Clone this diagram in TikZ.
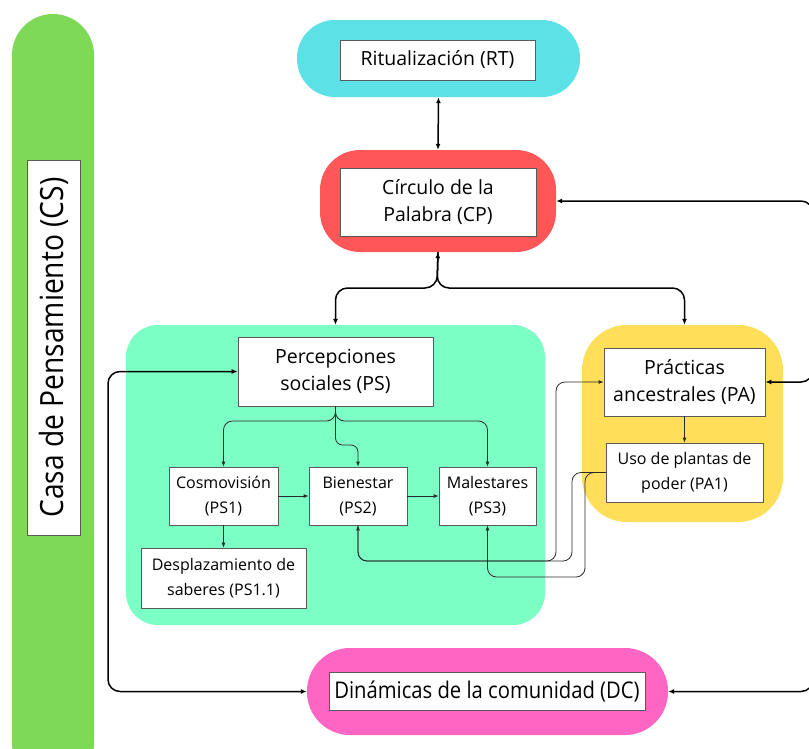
\documentclass[tikz,border=0pt]{standalone}
\usepackage{fontspec}
\setmainfont{Open Sans}
\newfontfamily\condfont[FakeStretch=0.88]{Open Sans}
\usetikzlibrary{arrows.meta,calc}
\definecolor{cyanbg}{HTML}{5CE1E6}
\definecolor{redbg}{HTML}{FF5757}
\definecolor{mintbg}{HTML}{7CFFC4}
\definecolor{yellowbg}{HTML}{FFDE59}
\definecolor{pinkbg}{HTML}{FF66C4}
\definecolor{greenbg}{HTML}{7ED957}
\definecolor{boxline}{HTML}{5A5A5A}
\definecolor{thinline}{HTML}{2A2A2A}
\begin{document}
\begin{tikzpicture}[x=1pt,y=-1pt,
  bg/.style={inner sep=0pt, draw=none},
  wbox/.style={draw=boxline, line width=0.8pt, fill=white, inner sep=0pt, align=center},
  bigtxt/.style={font=\fontsize{19.5}{27}\selectfont},
  smalltxt/.style={font=\fontsize{16}{25}\selectfont},
  mainline/.style={line width=1.5pt, black, rounded corners=12pt},
  thinconn/.style={line width=0.8pt, thinline, rounded corners=9pt},
  mtip/.style={-{Latex[length=6pt,width=5pt]}},
  mtipboth/.style={{Latex[length=6pt,width=5pt]}-{Latex[length=6pt,width=5pt]}},
  ttip/.style={-{Latex[length=5pt,width=4pt]}}
]
\useasboundingbox (0,0) rectangle (809,748);

% backgrounds
\node[bg, fill=greenbg, minimum width=82pt, minimum height=770pt, rounded corners=41pt] (CSbg) at (53,399) {};
\node[bg, fill=cyanbg, minimum width=283pt, minimum height=77pt, rounded corners=38pt] (RTbg) at (438.5,58.5) {};
\node[bg, fill=redbg, minimum width=236pt, minimum height=102pt, rounded corners=40pt] (CPbg) at (438,201) {};
\node[bg, fill=mintbg, minimum width=419pt, minimum height=300pt, rounded corners=32pt] (PSbg) at (335.5,475) {};
\node[bg, fill=yellowbg, minimum width=201pt, minimum height=197pt, rounded corners=45pt] (PAbg) at (682.5,423.5) {};
\node[bg, fill=pinkbg, minimum width=361pt, minimum height=87pt, rounded corners=43pt] (DCbg) at (487.5,691.5) {};

% boxes
\node[wbox, minimum width=375pt, minimum height=53pt, rotate=90, font=\condfont\fontsize{32}{36}\selectfont] (CS) at (53.5,347.5) {Casa de Pensamiento (CS)};
\node[wbox, bigtxt, minimum width=195pt, minimum height=40pt] (RT) at (437.5,60) {Ritualización (RT)};
\node[wbox, bigtxt, minimum width=196pt, minimum height=68pt] (CP) at (438,202) {Círculo de la\\Palabra (CP)};
\node[wbox, bigtxt, minimum width=195pt, minimum height=69pt] (PS) at (335.5,371.5) {Percepciones\\sociales (PS)};
\node[wbox, smalltxt, minimum width=109pt, minimum height=58pt] (PS1) at (223.5,496) {Cosmovisión\\(PS1)};
\node[wbox, smalltxt, minimum width=98pt, minimum height=58pt] (PS2) at (358,496) {Bienestar\\(PS2)};
\node[wbox, smalltxt, minimum width=97pt, minimum height=58pt] (PS3) at (487.5,496) {Malestares\\(PS3)};
\node[wbox, smalltxt, minimum width=165pt, minimum height=60pt] (PS11) at (223.5,578) {Desplazamiento de\\saberes (PS1.1)};
\node[wbox, bigtxt, minimum width=161pt, minimum height=68pt] (PA) at (684.5,382) {Prácticas\\ancestrales (PA)};
\node[wbox, smalltxt, minimum width=157pt, minimum height=59pt] (PA1) at (684.5,472.5) {Uso de plantas de\\poder (PA1)};
\node[wbox, minimum width=316pt, minimum height=38pt, font=\condfont\fontsize{23}{26}\selectfont] (DC) at (487,691) {Dinámicas de la comunidad (DC)};

% helper coordinates
\coordinate (fork) at (437,288);
\coordinate (Lx) at (108,0);
\coordinate (Rx) at (813,0);
\coordinate (psfork) at (0,421);
\coordinate (psmid) at (0,445);
\coordinate (yA) at (0,561);
\coordinate (yB) at (0,577);
\coordinate (xA) at (556,0);
\coordinate (xB) at (572,0);
\coordinate (xC) at (585,0);

% main connectors
\draw[mainline, mtipboth] (RTbg.south) -- (CPbg.north);
\draw[mainline, mtipboth] (CPbg.south) -- (fork) -- (fork -| PS.north) -- (PSbg.north -| PS.north);
\draw[mainline, mtip] (CPbg.south) -- (fork) -- (fork -| PA.north) -- (PAbg.north -| PA.north);
\draw[mainline, mtipboth] (PS.west) -- (PS.west -| Lx) -- (DCbg.west -| Lx) -- (DCbg.west);
\draw[mainline, mtipboth] (CPbg.east) -- (CPbg.east -| Rx) -- (DCbg.east -| Rx) -- (DCbg.east);
\draw[mainline, mtip] (CPbg.east -| Rx) -- (PA.east -| Rx) -- (PA.east);

% inner connectors
\draw[thinconn, ttip] (PS.south) -- (psfork -| PS.south) -- (psfork -| PS1.north) -- (PS1.north);
\draw[thinconn, ttip] (PS.south) -- (psfork -| PS.south) -- (psfork -| PS3.north) -- (PS3.north);
\draw[thinconn, rounded corners=7pt, ttip] (PS.south) -- (psmid -| PS.south) -- (psmid -| PS2.north) -- (PS2.north);
\draw[thinconn, ttip] (PS1.east) -- (PS2.west);
\draw[thinconn, ttip] (PS2.east) -- (PS3.west);
\draw[thinconn, ttip] (PS1.south) -- (PS11.north);
\draw[thinconn, ttip] (PA.south) -- (PA1.north);

% cross connectors
\draw[thinconn, ttip] (PS2.south) -- (yA -| PS2.south) -- (yA -| xA) -- (PA.west -| xA) -- (PA.west);
\draw[thinconn, ttip] (PA1.west) -- (PA1.west -| xB) -- (yA -| xB) -- (yA -| PS2.south) -- (PS2.south);
\draw[thinconn, ttip] (PA1.west) -- (PA1.west -| xC) -- (yB -| xC) -- (yB -| PS3.south) -- (PS3.south);
\end{tikzpicture}
\end{document}
